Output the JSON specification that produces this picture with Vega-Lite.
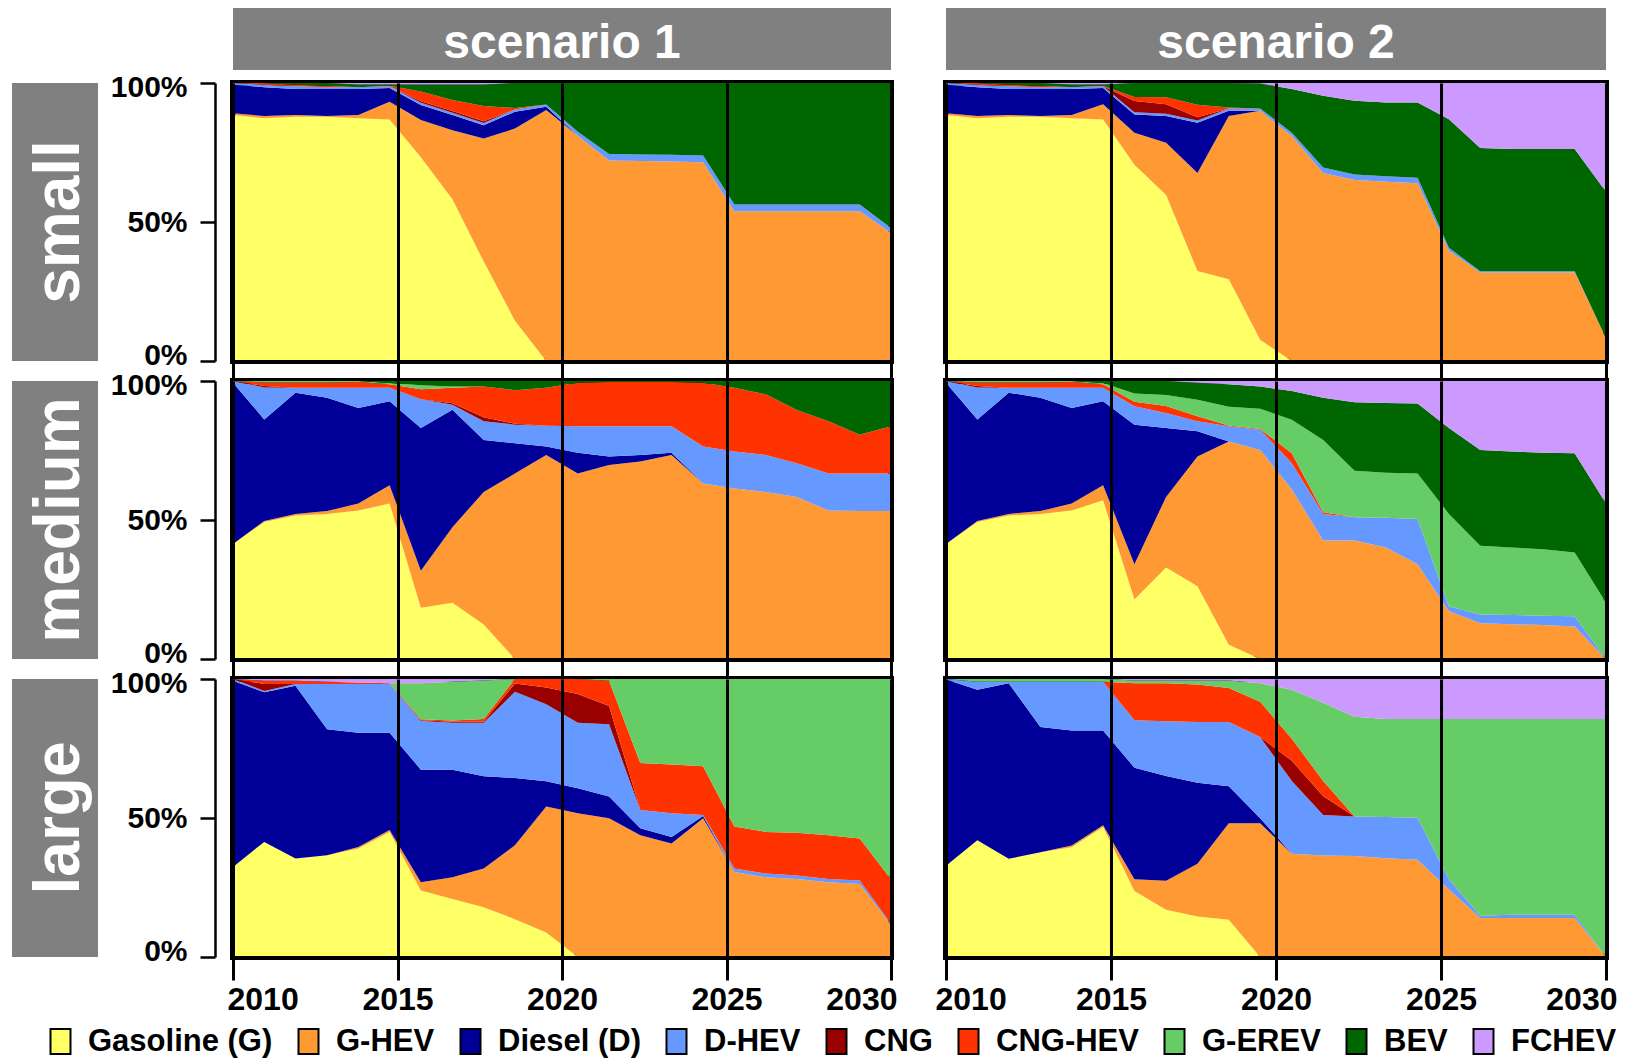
{
  "$schema": "https://vega.github.io/schema/vega-lite/v6.json",
  "padding": {"left": 12, "top": 8, "right": 4, "bottom": 4},
  "background": "white",
  "config": {
    "font": "Liberation Sans",
    "view": {"stroke": "black", "strokeWidth": 6},
    "axis": {"labelFont": "Liberation Sans", "labelFontWeight": "bold", "labelColor": "black", "domainColor": "black", "tickColor": "black"},
    "legend": {
      "labelFont": "Liberation Sans", "labelFontSize": 31, "labelFontWeight": "bold", "labelColor": "black", "labelLimit": 500,
      "symbolStrokeColor": "black", "symbolStrokeWidth": 2
    }
  },
  "datasets": {
    "techs": [
      {"k": "G", "tech": "Gasoline (G)", "rank": 1},
      {"k": "GH", "tech": "G-HEV", "rank": 2},
      {"k": "D", "tech": "Diesel (D)", "rank": 3},
      {"k": "DH", "tech": "D-HEV", "rank": 4},
      {"k": "C", "tech": "CNG", "rank": 5},
      {"k": "CH", "tech": "CNG-HEV", "rank": 6},
      {"k": "GE", "tech": "G-EREV", "rank": 7},
      {"k": "B", "tech": "BEV", "rank": 8},
      {"k": "F", "tech": "FCHEV", "rank": 9}
    ],
    "s1_small": [
      {"x": 2010, "G": 0.885, "GH": 0.006, "D": 0.103, "DH": 0.006, "C": 0, "CH": 0, "GE": 0, "B": 0, "F": 0},
      {"x": 2010.95, "G": 0.873, "GH": 0.008, "D": 0.104, "DH": 0.009, "C": 0, "CH": 0.006, "GE": 0, "B": 0, "F": 0},
      {"x": 2011.9, "G": 0.879, "GH": 0.006, "D": 0.093, "DH": 0.01, "C": 0, "CH": 0.006, "GE": 0, "B": 0.006, "F": 0},
      {"x": 2012.86, "G": 0.879, "GH": 0.002, "D": 0.097, "DH": 0.007, "C": 0, "CH": 0.005, "GE": 0, "B": 0.01, "F": 0},
      {"x": 2013.81, "G": 0.873, "GH": 0.012, "D": 0.093, "DH": 0.007, "C": 0, "CH": 0, "GE": 0, "B": 0.01, "F": 0.005},
      {"x": 2014.76, "G": 0.869, "GH": 0.064, "D": 0.049, "DH": 0.006, "C": 0, "CH": 0.002, "GE": 0, "B": 0.005, "F": 0.005},
      {"x": 2015.71, "G": 0.733, "GH": 0.134, "D": 0.054, "DH": 0.008, "C": 0.005, "CH": 0.035, "GE": 0, "B": 0.026, "F": 0.005},
      {"x": 2016.67, "G": 0.582, "GH": 0.248, "D": 0.055, "DH": 0.008, "C": 0.006, "CH": 0.04, "GE": 0, "B": 0.056, "F": 0.005},
      {"x": 2017.62, "G": 0.358, "GH": 0.442, "D": 0.048, "DH": 0.008, "C": 0.006, "CH": 0.055, "GE": 0, "B": 0.078, "F": 0.005},
      {"x": 2018.57, "G": 0.145, "GH": 0.691, "D": 0.061, "DH": 0.008, "C": 0, "CH": 0.005, "GE": 0, "B": 0.09, "F": 0},
      {"x": 2019.52, "G": 0, "GH": 0.903, "D": 0.012, "DH": 0.008, "C": 0, "CH": 0, "GE": 0, "B": 0.077, "F": 0},
      {"x": 2020.48, "G": 0, "GH": 0.81, "D": 0, "DH": 0.015, "C": 0, "CH": 0, "GE": 0, "B": 0.175, "F": 0},
      {"x": 2021.43, "G": 0, "GH": 0.721, "D": 0, "DH": 0.024, "C": 0, "CH": 0, "GE": 0, "B": 0.255, "F": 0},
      {"x": 2022.38, "G": 0, "GH": 0.719, "D": 0, "DH": 0.024, "C": 0, "CH": 0, "GE": 0, "B": 0.257, "F": 0},
      {"x": 2023.33, "G": 0, "GH": 0.718, "D": 0, "DH": 0.024, "C": 0, "CH": 0, "GE": 0, "B": 0.258, "F": 0},
      {"x": 2024.29, "G": 0, "GH": 0.715, "D": 0, "DH": 0.024, "C": 0, "CH": 0, "GE": 0, "B": 0.261, "F": 0},
      {"x": 2025.24, "G": 0, "GH": 0.539, "D": 0, "DH": 0.024, "C": 0, "CH": 0, "GE": 0, "B": 0.437, "F": 0},
      {"x": 2026.19, "G": 0, "GH": 0.539, "D": 0, "DH": 0.024, "C": 0, "CH": 0, "GE": 0, "B": 0.437, "F": 0},
      {"x": 2027.14, "G": 0, "GH": 0.539, "D": 0, "DH": 0.024, "C": 0, "CH": 0, "GE": 0, "B": 0.437, "F": 0},
      {"x": 2028.1, "G": 0, "GH": 0.539, "D": 0, "DH": 0.024, "C": 0, "CH": 0, "GE": 0, "B": 0.437, "F": 0},
      {"x": 2029.05, "G": 0, "GH": 0.539, "D": 0, "DH": 0.024, "C": 0, "CH": 0, "GE": 0, "B": 0.437, "F": 0},
      {"x": 2030, "G": 0, "GH": 0.46, "D": 0, "DH": 0.018, "C": 0, "CH": 0, "GE": 0, "B": 0.522, "F": 0}
    ],
    "s2_small": [
      {"x": 2010, "G": 0.885, "GH": 0.006, "D": 0.103, "DH": 0.006, "C": 0, "CH": 0, "GE": 0, "B": 0, "F": 0},
      {"x": 2010.95, "G": 0.873, "GH": 0.008, "D": 0.104, "DH": 0.009, "C": 0, "CH": 0.006, "GE": 0, "B": 0, "F": 0},
      {"x": 2011.9, "G": 0.879, "GH": 0.006, "D": 0.093, "DH": 0.01, "C": 0, "CH": 0.006, "GE": 0, "B": 0.006, "F": 0},
      {"x": 2012.86, "G": 0.879, "GH": 0.002, "D": 0.097, "DH": 0.007, "C": 0, "CH": 0.005, "GE": 0, "B": 0.01, "F": 0},
      {"x": 2013.81, "G": 0.873, "GH": 0.012, "D": 0.093, "DH": 0.007, "C": 0, "CH": 0, "GE": 0, "B": 0.01, "F": 0.005},
      {"x": 2014.76, "G": 0.869, "GH": 0.055, "D": 0.058, "DH": 0.006, "C": 0, "CH": 0.002, "GE": 0, "B": 0.005, "F": 0.005},
      {"x": 2015.71, "G": 0.706, "GH": 0.115, "D": 0.066, "DH": 0.008, "C": 0.04, "CH": 0.015, "GE": 0, "B": 0.05, "F": 0},
      {"x": 2016.67, "G": 0.597, "GH": 0.188, "D": 0.096, "DH": 0.008, "C": 0.035, "CH": 0.025, "GE": 0, "B": 0.051, "F": 0},
      {"x": 2017.62, "G": 0.324, "GH": 0.352, "D": 0.181, "DH": 0.008, "C": 0.012, "CH": 0.045, "GE": 0, "B": 0.078, "F": 0},
      {"x": 2018.57, "G": 0.294, "GH": 0.587, "D": 0.019, "DH": 0.008, "C": 0, "CH": 0.004, "GE": 0, "B": 0.088, "F": 0},
      {"x": 2019.52, "G": 0.076, "GH": 0.824, "D": 0, "DH": 0.008, "C": 0, "CH": 0, "GE": 0, "B": 0.09, "F": 0.002},
      {"x": 2020.48, "G": 0, "GH": 0.809, "D": 0, "DH": 0.012, "C": 0, "CH": 0, "GE": 0, "B": 0.157, "F": 0.022},
      {"x": 2021.43, "G": 0, "GH": 0.676, "D": 0, "DH": 0.02, "C": 0, "CH": 0, "GE": 0, "B": 0.258, "F": 0.046},
      {"x": 2022.38, "G": 0, "GH": 0.651, "D": 0, "DH": 0.02, "C": 0, "CH": 0, "GE": 0, "B": 0.265, "F": 0.064},
      {"x": 2023.33, "G": 0, "GH": 0.645, "D": 0, "DH": 0.02, "C": 0, "CH": 0, "GE": 0, "B": 0.265, "F": 0.07},
      {"x": 2024.29, "G": 0, "GH": 0.639, "D": 0, "DH": 0.02, "C": 0, "CH": 0, "GE": 0, "B": 0.271, "F": 0.07},
      {"x": 2025.24, "G": 0, "GH": 0.397, "D": 0, "DH": 0.01, "C": 0, "CH": 0, "GE": 0, "B": 0.463, "F": 0.13},
      {"x": 2026.19, "G": 0, "GH": 0.318, "D": 0, "DH": 0.005, "C": 0, "CH": 0, "GE": 0, "B": 0.443, "F": 0.234},
      {"x": 2027.14, "G": 0, "GH": 0.318, "D": 0, "DH": 0.005, "C": 0, "CH": 0, "GE": 0, "B": 0.44, "F": 0.237},
      {"x": 2028.1, "G": 0, "GH": 0.318, "D": 0, "DH": 0.005, "C": 0, "CH": 0, "GE": 0, "B": 0.44, "F": 0.237},
      {"x": 2029.05, "G": 0, "GH": 0.318, "D": 0, "DH": 0.005, "C": 0, "CH": 0, "GE": 0, "B": 0.44, "F": 0.237},
      {"x": 2030, "G": 0, "GH": 0.082, "D": 0, "DH": 0, "C": 0, "CH": 0, "GE": 0, "B": 0.527, "F": 0.391}
    ],
    "s1_medium": [
      {"x": 2010, "G": 0.414, "GH": 0, "D": 0.58, "DH": 0.006, "C": 0, "CH": 0, "GE": 0, "B": 0, "F": 0},
      {"x": 2010.95, "G": 0.492, "GH": 0.004, "D": 0.365, "DH": 0.115, "C": 0.005, "CH": 0.013, "GE": 0.005, "B": 0, "F": 0},
      {"x": 2011.9, "G": 0.516, "GH": 0.006, "D": 0.436, "DH": 0.018, "C": 0, "CH": 0.019, "GE": 0.005, "B": 0, "F": 0},
      {"x": 2012.86, "G": 0.522, "GH": 0.01, "D": 0.408, "DH": 0.036, "C": 0, "CH": 0.019, "GE": 0.005, "B": 0, "F": 0},
      {"x": 2013.81, "G": 0.534, "GH": 0.025, "D": 0.344, "DH": 0.073, "C": 0, "CH": 0.02, "GE": 0.004, "B": 0, "F": 0},
      {"x": 2014.76, "G": 0.559, "GH": 0.066, "D": 0.302, "DH": 0.049, "C": 0, "CH": 0.012, "GE": 0.005, "B": 0.007, "F": 0},
      {"x": 2015.71, "G": 0.184, "GH": 0.133, "D": 0.514, "DH": 0.103, "C": 0, "CH": 0.036, "GE": 0.015, "B": 0.015, "F": 0},
      {"x": 2016.67, "G": 0.202, "GH": 0.272, "D": 0.423, "DH": 0.018, "C": 0.005, "CH": 0.056, "GE": 0.004, "B": 0.02, "F": 0},
      {"x": 2017.62, "G": 0.124, "GH": 0.477, "D": 0.187, "DH": 0.067, "C": 0.015, "CH": 0.11, "GE": 0, "B": 0.02, "F": 0},
      {"x": 2018.57, "G": 0, "GH": 0.667, "D": 0.109, "DH": 0.067, "C": 0.003, "CH": 0.121, "GE": 0, "B": 0.033, "F": 0},
      {"x": 2019.52, "G": 0, "GH": 0.734, "D": 0.03, "DH": 0.075, "C": 0, "CH": 0.137, "GE": 0, "B": 0.024, "F": 0},
      {"x": 2020.48, "G": 0, "GH": 0.667, "D": 0.075, "DH": 0.095, "C": 0, "CH": 0.157, "GE": 0, "B": 0.006, "F": 0},
      {"x": 2021.43, "G": 0, "GH": 0.698, "D": 0.03, "DH": 0.109, "C": 0, "CH": 0.159, "GE": 0, "B": 0.004, "F": 0},
      {"x": 2022.38, "G": 0, "GH": 0.71, "D": 0.024, "DH": 0.103, "C": 0, "CH": 0.159, "GE": 0, "B": 0.004, "F": 0},
      {"x": 2023.33, "G": 0, "GH": 0.734, "D": 0.008, "DH": 0.095, "C": 0, "CH": 0.159, "GE": 0, "B": 0.004, "F": 0},
      {"x": 2024.29, "G": 0, "GH": 0.631, "D": 0, "DH": 0.133, "C": 0, "CH": 0.23, "GE": 0, "B": 0.006, "F": 0},
      {"x": 2025.24, "G": 0, "GH": 0.613, "D": 0, "DH": 0.133, "C": 0, "CH": 0.23, "GE": 0, "B": 0.024, "F": 0},
      {"x": 2026.19, "G": 0, "GH": 0.601, "D": 0, "DH": 0.133, "C": 0, "CH": 0.218, "GE": 0, "B": 0.048, "F": 0},
      {"x": 2027.14, "G": 0, "GH": 0.583, "D": 0, "DH": 0.121, "C": 0, "CH": 0.192, "GE": 0, "B": 0.104, "F": 0},
      {"x": 2028.1, "G": 0, "GH": 0.534, "D": 0, "DH": 0.133, "C": 0, "CH": 0.188, "GE": 0, "B": 0.145, "F": 0},
      {"x": 2029.05, "G": 0, "GH": 0.532, "D": 0, "DH": 0.135, "C": 0, "CH": 0.14, "GE": 0, "B": 0.193, "F": 0},
      {"x": 2030, "G": 0, "GH": 0.532, "D": 0, "DH": 0.135, "C": 0, "CH": 0.17, "GE": 0, "B": 0.163, "F": 0}
    ],
    "s2_medium": [
      {"x": 2010, "G": 0.414, "GH": 0, "D": 0.58, "DH": 0.006, "C": 0, "CH": 0, "GE": 0, "B": 0, "F": 0},
      {"x": 2010.95, "G": 0.492, "GH": 0.004, "D": 0.365, "DH": 0.115, "C": 0.005, "CH": 0.013, "GE": 0.005, "B": 0, "F": 0},
      {"x": 2011.9, "G": 0.516, "GH": 0.006, "D": 0.436, "DH": 0.018, "C": 0, "CH": 0.019, "GE": 0.005, "B": 0, "F": 0},
      {"x": 2012.86, "G": 0.522, "GH": 0.01, "D": 0.408, "DH": 0.036, "C": 0, "CH": 0.019, "GE": 0.005, "B": 0, "F": 0},
      {"x": 2013.81, "G": 0.534, "GH": 0.025, "D": 0.344, "DH": 0.073, "C": 0, "CH": 0.02, "GE": 0.004, "B": 0, "F": 0},
      {"x": 2014.76, "G": 0.571, "GH": 0.054, "D": 0.302, "DH": 0.049, "C": 0, "CH": 0.012, "GE": 0.005, "B": 0.007, "F": 0},
      {"x": 2015.71, "G": 0.214, "GH": 0.127, "D": 0.502, "DH": 0.066, "C": 0, "CH": 0.016, "GE": 0.03, "B": 0.045, "F": 0},
      {"x": 2016.67, "G": 0.329, "GH": 0.254, "D": 0.248, "DH": 0.054, "C": 0, "CH": 0.025, "GE": 0.04, "B": 0.05, "F": 0},
      {"x": 2017.62, "G": 0.262, "GH": 0.466, "D": 0.091, "DH": 0.036, "C": 0, "CH": 0.018, "GE": 0.06, "B": 0.061, "F": 0.006},
      {"x": 2018.57, "G": 0.051, "GH": 0.731, "D": 0, "DH": 0.055, "C": 0, "CH": 0.003, "GE": 0.067, "B": 0.081, "F": 0.012},
      {"x": 2019.52, "G": 0, "GH": 0.752, "D": 0, "DH": 0.073, "C": 0, "CH": 0.002, "GE": 0.073, "B": 0.08, "F": 0.02},
      {"x": 2020.48, "G": 0, "GH": 0.61, "D": 0, "DH": 0.094, "C": 0, "CH": 0.036, "GE": 0.121, "B": 0.103, "F": 0.036},
      {"x": 2021.43, "G": 0, "GH": 0.426, "D": 0, "DH": 0.096, "C": 0, "CH": 0.006, "GE": 0.26, "B": 0.152, "F": 0.06},
      {"x": 2022.38, "G": 0, "GH": 0.426, "D": 0, "DH": 0.084, "C": 0, "CH": 0, "GE": 0.167, "B": 0.247, "F": 0.076},
      {"x": 2023.33, "G": 0, "GH": 0.401, "D": 0, "DH": 0.107, "C": 0, "CH": 0, "GE": 0.162, "B": 0.251, "F": 0.079},
      {"x": 2024.29, "G": 0, "GH": 0.341, "D": 0, "DH": 0.163, "C": 0, "CH": 0, "GE": 0.163, "B": 0.252, "F": 0.081},
      {"x": 2025.24, "G": 0, "GH": 0.172, "D": 0, "DH": 0.018, "C": 0, "CH": 0, "GE": 0.332, "B": 0.309, "F": 0.169},
      {"x": 2026.19, "G": 0, "GH": 0.129, "D": 0, "DH": 0.031, "C": 0, "CH": 0, "GE": 0.247, "B": 0.345, "F": 0.248},
      {"x": 2027.14, "G": 0, "GH": 0.125, "D": 0, "DH": 0.033, "C": 0, "CH": 0, "GE": 0.243, "B": 0.345, "F": 0.254},
      {"x": 2028.1, "G": 0, "GH": 0.122, "D": 0, "DH": 0.034, "C": 0, "CH": 0, "GE": 0.239, "B": 0.347, "F": 0.258},
      {"x": 2029.05, "G": 0, "GH": 0.117, "D": 0, "DH": 0.037, "C": 0, "CH": 0, "GE": 0.229, "B": 0.357, "F": 0.26},
      {"x": 2030, "G": 0, "GH": 0, "D": 0, "DH": 0, "C": 0, "CH": 0, "GE": 0.202, "B": 0.357, "F": 0.441}
    ],
    "s1_large": [
      {"x": 2010, "G": 0.324, "GH": 0, "D": 0.67, "DH": 0.006, "C": 0, "CH": 0, "GE": 0, "B": 0, "F": 0},
      {"x": 2010.95, "G": 0.414, "GH": 0, "D": 0.538, "DH": 0.005, "C": 0.025, "CH": 0.012, "GE": 0, "B": 0, "F": 0.006},
      {"x": 2011.9, "G": 0.354, "GH": 0, "D": 0.622, "DH": 0.006, "C": 0, "CH": 0.012, "GE": 0, "B": 0, "F": 0.006},
      {"x": 2012.86, "G": 0.366, "GH": 0, "D": 0.453, "DH": 0.163, "C": 0, "CH": 0.008, "GE": 0, "B": 0, "F": 0.01},
      {"x": 2013.81, "G": 0.39, "GH": 0.006, "D": 0.411, "DH": 0.175, "C": 0, "CH": 0.005, "GE": 0, "B": 0, "F": 0.013},
      {"x": 2014.76, "G": 0.45, "GH": 0.007, "D": 0.35, "DH": 0.175, "C": 0, "CH": 0.003, "GE": 0, "B": 0, "F": 0.015},
      {"x": 2015.71, "G": 0.239, "GH": 0.03, "D": 0.405, "DH": 0.175, "C": 0.003, "CH": 0.003, "GE": 0.13, "B": 0, "F": 0.015},
      {"x": 2016.67, "G": 0.209, "GH": 0.078, "D": 0.387, "DH": 0.169, "C": 0.003, "CH": 0.005, "GE": 0.139, "B": 0, "F": 0.01},
      {"x": 2017.62, "G": 0.179, "GH": 0.139, "D": 0.332, "DH": 0.193, "C": 0.003, "CH": 0.01, "GE": 0.139, "B": 0, "F": 0.005},
      {"x": 2018.57, "G": 0.136, "GH": 0.266, "D": 0.242, "DH": 0.31, "C": 0.03, "CH": 0.016, "GE": 0, "B": 0, "F": 0},
      {"x": 2019.52, "G": 0.088, "GH": 0.453, "D": 0.091, "DH": 0.277, "C": 0.06, "CH": 0.031, "GE": 0, "B": 0, "F": 0},
      {"x": 2020.48, "G": 0, "GH": 0.517, "D": 0.09, "DH": 0.236, "C": 0.103, "CH": 0.054, "GE": 0, "B": 0, "F": 0},
      {"x": 2021.43, "G": 0, "GH": 0.499, "D": 0.078, "DH": 0.26, "C": 0.066, "CH": 0.091, "GE": 0.006, "B": 0, "F": 0},
      {"x": 2022.38, "G": 0, "GH": 0.438, "D": 0.025, "DH": 0.066, "C": 0, "CH": 0.169, "GE": 0.302, "B": 0, "F": 0},
      {"x": 2023.33, "G": 0, "GH": 0.408, "D": 0.024, "DH": 0.085, "C": 0, "CH": 0.175, "GE": 0.308, "B": 0, "F": 0},
      {"x": 2024.29, "G": 0, "GH": 0.499, "D": 0.008, "DH": 0.004, "C": 0, "CH": 0.175, "GE": 0.314, "B": 0, "F": 0},
      {"x": 2025.24, "G": 0, "GH": 0.306, "D": 0, "DH": 0.012, "C": 0, "CH": 0.151, "GE": 0.531, "B": 0, "F": 0},
      {"x": 2026.19, "G": 0, "GH": 0.287, "D": 0, "DH": 0.013, "C": 0, "CH": 0.15, "GE": 0.55, "B": 0, "F": 0},
      {"x": 2027.14, "G": 0, "GH": 0.281, "D": 0, "DH": 0.012, "C": 0, "CH": 0.154, "GE": 0.553, "B": 0, "F": 0},
      {"x": 2028.1, "G": 0, "GH": 0.269, "D": 0, "DH": 0.012, "C": 0, "CH": 0.157, "GE": 0.562, "B": 0, "F": 0},
      {"x": 2029.05, "G": 0, "GH": 0.263, "D": 0, "DH": 0.012, "C": 0, "CH": 0.151, "GE": 0.574, "B": 0, "F": 0},
      {"x": 2030, "G": 0, "GH": 0.115, "D": 0, "DH": 0.005, "C": 0, "CH": 0.16, "GE": 0.72, "B": 0, "F": 0}
    ],
    "s2_large": [
      {"x": 2010, "G": 0.328, "GH": 0, "D": 0.67, "DH": 0.002, "C": 0, "CH": 0, "GE": 0, "B": 0, "F": 0},
      {"x": 2010.95, "G": 0.42, "GH": 0, "D": 0.541, "DH": 0.029, "C": 0, "CH": 0, "GE": 0.01, "B": 0, "F": 0},
      {"x": 2011.9, "G": 0.353, "GH": 0, "D": 0.632, "DH": 0.005, "C": 0, "CH": 0, "GE": 0.01, "B": 0, "F": 0},
      {"x": 2012.86, "G": 0.377, "GH": 0, "D": 0.45, "DH": 0.163, "C": 0, "CH": 0, "GE": 0.01, "B": 0, "F": 0},
      {"x": 2013.81, "G": 0.395, "GH": 0.006, "D": 0.414, "DH": 0.175, "C": 0, "CH": 0, "GE": 0.01, "B": 0, "F": 0},
      {"x": 2014.76, "G": 0.468, "GH": 0.006, "D": 0.341, "DH": 0.175, "C": 0, "CH": 0, "GE": 0.01, "B": 0, "F": 0},
      {"x": 2015.71, "G": 0.237, "GH": 0.043, "D": 0.401, "DH": 0.171, "C": 0, "CH": 0.133, "GE": 0.01, "B": 0, "F": 0.005},
      {"x": 2016.67, "G": 0.17, "GH": 0.104, "D": 0.377, "DH": 0.197, "C": 0, "CH": 0.137, "GE": 0.01, "B": 0, "F": 0.005},
      {"x": 2017.62, "G": 0.146, "GH": 0.189, "D": 0.292, "DH": 0.218, "C": 0, "CH": 0.135, "GE": 0.015, "B": 0, "F": 0.005},
      {"x": 2018.57, "G": 0.134, "GH": 0.347, "D": 0.133, "DH": 0.231, "C": 0, "CH": 0.123, "GE": 0.027, "B": 0, "F": 0.005},
      {"x": 2019.52, "G": 0, "GH": 0.481, "D": 0.018, "DH": 0.292, "C": 0, "CH": 0.127, "GE": 0.067, "B": 0, "F": 0.015},
      {"x": 2020.48, "G": 0, "GH": 0.371, "D": 0, "DH": 0.262, "C": 0.073, "CH": 0.079, "GE": 0.176, "B": 0, "F": 0.039},
      {"x": 2021.43, "G": 0, "GH": 0.365, "D": 0, "DH": 0.146, "C": 0.067, "CH": 0.055, "GE": 0.282, "B": 0, "F": 0.085},
      {"x": 2022.38, "G": 0, "GH": 0.363, "D": 0, "DH": 0.142, "C": 0, "CH": 0, "GE": 0.359, "B": 0, "F": 0.136},
      {"x": 2023.33, "G": 0, "GH": 0.355, "D": 0, "DH": 0.149, "C": 0, "CH": 0, "GE": 0.352, "B": 0, "F": 0.144},
      {"x": 2024.29, "G": 0, "GH": 0.35, "D": 0, "DH": 0.151, "C": 0, "CH": 0, "GE": 0.355, "B": 0, "F": 0.144},
      {"x": 2025.24, "G": 0, "GH": 0.243, "D": 0, "DH": 0.037, "C": 0, "CH": 0, "GE": 0.576, "B": 0, "F": 0.144},
      {"x": 2026.19, "G": 0, "GH": 0.14, "D": 0, "DH": 0.008, "C": 0, "CH": 0, "GE": 0.708, "B": 0, "F": 0.144},
      {"x": 2027.14, "G": 0, "GH": 0.14, "D": 0, "DH": 0.012, "C": 0, "CH": 0, "GE": 0.704, "B": 0, "F": 0.144},
      {"x": 2028.1, "G": 0, "GH": 0.14, "D": 0, "DH": 0.012, "C": 0, "CH": 0, "GE": 0.704, "B": 0, "F": 0.144},
      {"x": 2029.05, "G": 0, "GH": 0.14, "D": 0, "DH": 0.012, "C": 0, "CH": 0, "GE": 0.704, "B": 0, "F": 0.144},
      {"x": 2030, "G": 0, "GH": 0, "D": 0, "DH": 0, "C": 0, "CH": 0, "GE": 0.856, "B": 0, "F": 0.144}
    ]
  },
  "resolve": {"scale": {"color": "shared"}, "legend": {"color": "shared"}},
  "spacing": -1,
  "vconcat": [
    {
      "spacing": 55,
      "hconcat": [
        {"width": 86, "height": 62, "view": {"stroke": null}, "data": {"values": [{"label": ""}]}, "mark": {"type": "text"}, "encoding": {"text": {"field": "label", "type": "nominal"}}},
        {"width": 25, "height": 62, "view": {"stroke": null}, "data": {"values": [{"label": ""}]}, "mark": {"type": "text"}, "encoding": {"text": {"field": "label", "type": "nominal"}}},
        {"width": 658, "height": 62, "view": {"fill": "#808080", "stroke": null}, "data": {"values": [{"label": "scenario 1"}]}, "mark": {"type": "text", "fontSize": 48, "fontWeight": "bold", "color": "white", "baseline": "middle", "align": "center", "dy": 5}, "encoding": {"text": {"field": "label", "type": "nominal"}}},
        {"width": 660, "height": 62, "view": {"fill": "#808080", "stroke": null}, "data": {"values": [{"label": "scenario 2"}]}, "mark": {"type": "text", "fontSize": 48, "fontWeight": "bold", "color": "white", "baseline": "middle", "align": "center", "dy": 5}, "encoding": {"text": {"field": "label", "type": "nominal"}}}
      ]
    },
    {
      "columns": 4,
      "bounds": "flush",
      "align": "each",
      "spacing": {"row": 20, "column": 55},
      "resolve": {"scale": {"color": "shared"}, "legend": {"color": "shared"}},
      "concat": [
        {"width": 86, "height": 278, "view": {"fill": "#808080", "stroke": null}, "data": {"values": [{"label": "small"}]}, "mark": {"type": "text", "angle": 270, "fontSize": 64, "fontWeight": "bold", "color": "white", "baseline": "middle", "align": "center", "dy": 5}, "encoding": {"text": {"field": "label", "type": "nominal"}}},
        {"width": 25, "height": 278, "view": {"stroke": null}, "data": {"values": [{"label": ""}]}, "mark": {"type": "text"}, "encoding": {"text": {"field": "label", "type": "nominal"}}},
        {
          "width": 658, "height": 278,
          "data": {"name": "s1_small"},
          "transform": [
            {"fold": ["G", "GH", "D", "DH", "C", "CH", "GE", "B", "F"], "as": ["k", "share"]},
            {"lookup": "k", "from": {"data": {"name": "techs"}, "key": "k", "fields": ["tech", "rank"]}}
          ],
          "mark": {"type": "area", "interpolate": "linear"},
          "encoding": {
            "x": {"field": "x", "type": "quantitative", "scale": {"domain": [2010, 2030], "nice": false, "zero": false},
                  "axis": {"values": [2010, 2015, 2020, 2025, 2030], "labels": false, "grid": true, "gridColor": "black", "gridWidth": 3, "gridOpacity": 1, "domainWidth": 3, "tickWidth": 3, "tickSize": 20, "title": null, "zindex": 1}},
            "y": {"field": "share", "type": "quantitative", "stack": "normalize", "scale": {"domain": [0, 1], "nice": false},
                  "axis": {"values": [0, 0.5, 1], "format": ".0%", "offset": 18, "tickSize": 15, "tickWidth": 2.5, "domainWidth": 2.5, "labelFontSize": 30, "labelPadding": 13, "title": null, "grid": false,
                           "labelOffset": {"condition": [{"test": "datum.value === 0", "value": -6}, {"test": "datum.value === 1", "value": 4}], "value": 0}}},
            "color": {"field": "tech", "type": "nominal",
                      "scale": {"domain": ["Gasoline (G)", "G-HEV", "Diesel (D)", "D-HEV", "CNG", "CNG-HEV", "G-EREV", "BEV", "FCHEV"], "range": ["#FFFF66", "#FF9933", "#000099", "#6699FF", "#990000", "#FF3300", "#66CC66", "#006600", "#CC99FF"]},
                      "legend": {"title": null, "orient": "none", "legendX": 33, "legendY": 1018, "direction": "horizontal", "columns": 9, "symbolType": "M-0.8,-1H0.8V1H-0.8Z", "symbolSize": 625, "labelOffset": 12, "columnPadding": 20, "encode": {"symbols": {"update": {"stroke": {"value": "black"}, "strokeWidth": {"value": 2}}}}}},
            "order": {"field": "rank", "type": "quantitative"}
          }
        },
        {
          "width": 660, "height": 278,
          "data": {"name": "s2_small"},
          "transform": [
            {"fold": ["G", "GH", "D", "DH", "C", "CH", "GE", "B", "F"], "as": ["k", "share"]},
            {"lookup": "k", "from": {"data": {"name": "techs"}, "key": "k", "fields": ["tech", "rank"]}}
          ],
          "mark": {"type": "area", "interpolate": "linear"},
          "encoding": {
            "x": {"field": "x", "type": "quantitative", "scale": {"domain": [2010, 2030], "nice": false, "zero": false},
                  "axis": {"values": [2010, 2015, 2020, 2025, 2030], "labels": false, "grid": true, "gridColor": "black", "gridWidth": 3, "gridOpacity": 1, "domainWidth": 3, "tickWidth": 3, "tickSize": 20, "title": null, "zindex": 1}},
            "y": {"field": "share", "type": "quantitative", "stack": "normalize", "scale": {"domain": [0, 1], "nice": false}, "axis": null},
            "color": {"field": "tech", "type": "nominal",
                      "scale": {"domain": ["Gasoline (G)", "G-HEV", "Diesel (D)", "D-HEV", "CNG", "CNG-HEV", "G-EREV", "BEV", "FCHEV"], "range": ["#FFFF66", "#FF9933", "#000099", "#6699FF", "#990000", "#FF3300", "#66CC66", "#006600", "#CC99FF"]},
                      "legend": {"title": null, "orient": "none", "legendX": 33, "legendY": 1018, "direction": "horizontal", "columns": 9, "symbolType": "M-0.8,-1H0.8V1H-0.8Z", "symbolSize": 625, "labelOffset": 12, "columnPadding": 20, "encode": {"symbols": {"update": {"stroke": {"value": "black"}, "strokeWidth": {"value": 2}}}}}},
            "order": {"field": "rank", "type": "quantitative"}
          }
        },
        {"width": 86, "height": 278, "view": {"fill": "#808080", "stroke": null}, "data": {"values": [{"label": "medium"}]}, "mark": {"type": "text", "angle": 270, "fontSize": 64, "fontWeight": "bold", "color": "white", "baseline": "middle", "align": "center", "dy": 5}, "encoding": {"text": {"field": "label", "type": "nominal"}}},
        {"width": 25, "height": 278, "view": {"stroke": null}, "data": {"values": [{"label": ""}]}, "mark": {"type": "text"}, "encoding": {"text": {"field": "label", "type": "nominal"}}},
        {
          "width": 658, "height": 278,
          "data": {"name": "s1_medium"},
          "transform": [
            {"fold": ["G", "GH", "D", "DH", "C", "CH", "GE", "B", "F"], "as": ["k", "share"]},
            {"lookup": "k", "from": {"data": {"name": "techs"}, "key": "k", "fields": ["tech", "rank"]}}
          ],
          "mark": {"type": "area", "interpolate": "linear"},
          "encoding": {
            "x": {"field": "x", "type": "quantitative", "scale": {"domain": [2010, 2030], "nice": false, "zero": false},
                  "axis": {"values": [2010, 2015, 2020, 2025, 2030], "labels": false, "grid": true, "gridColor": "black", "gridWidth": 3, "gridOpacity": 1, "domainWidth": 3, "tickWidth": 3, "tickSize": 20, "title": null, "zindex": 1}},
            "y": {"field": "share", "type": "quantitative", "stack": "normalize", "scale": {"domain": [0, 1], "nice": false},
                  "axis": {"values": [0, 0.5, 1], "format": ".0%", "offset": 18, "tickSize": 15, "tickWidth": 2.5, "domainWidth": 2.5, "labelFontSize": 30, "labelPadding": 13, "title": null, "grid": false,
                           "labelOffset": {"condition": [{"test": "datum.value === 0", "value": -6}, {"test": "datum.value === 1", "value": 4}], "value": 0}}},
            "color": {"field": "tech", "type": "nominal",
                      "scale": {"domain": ["Gasoline (G)", "G-HEV", "Diesel (D)", "D-HEV", "CNG", "CNG-HEV", "G-EREV", "BEV", "FCHEV"], "range": ["#FFFF66", "#FF9933", "#000099", "#6699FF", "#990000", "#FF3300", "#66CC66", "#006600", "#CC99FF"]},
                      "legend": {"title": null, "orient": "none", "legendX": 33, "legendY": 1018, "direction": "horizontal", "columns": 9, "symbolType": "M-0.8,-1H0.8V1H-0.8Z", "symbolSize": 625, "labelOffset": 12, "columnPadding": 20, "encode": {"symbols": {"update": {"stroke": {"value": "black"}, "strokeWidth": {"value": 2}}}}}},
            "order": {"field": "rank", "type": "quantitative"}
          }
        },
        {
          "width": 660, "height": 278,
          "data": {"name": "s2_medium"},
          "transform": [
            {"fold": ["G", "GH", "D", "DH", "C", "CH", "GE", "B", "F"], "as": ["k", "share"]},
            {"lookup": "k", "from": {"data": {"name": "techs"}, "key": "k", "fields": ["tech", "rank"]}}
          ],
          "mark": {"type": "area", "interpolate": "linear"},
          "encoding": {
            "x": {"field": "x", "type": "quantitative", "scale": {"domain": [2010, 2030], "nice": false, "zero": false},
                  "axis": {"values": [2010, 2015, 2020, 2025, 2030], "labels": false, "grid": true, "gridColor": "black", "gridWidth": 3, "gridOpacity": 1, "domainWidth": 3, "tickWidth": 3, "tickSize": 20, "title": null, "zindex": 1}},
            "y": {"field": "share", "type": "quantitative", "stack": "normalize", "scale": {"domain": [0, 1], "nice": false}, "axis": null},
            "color": {"field": "tech", "type": "nominal",
                      "scale": {"domain": ["Gasoline (G)", "G-HEV", "Diesel (D)", "D-HEV", "CNG", "CNG-HEV", "G-EREV", "BEV", "FCHEV"], "range": ["#FFFF66", "#FF9933", "#000099", "#6699FF", "#990000", "#FF3300", "#66CC66", "#006600", "#CC99FF"]},
                      "legend": {"title": null, "orient": "none", "legendX": 33, "legendY": 1018, "direction": "horizontal", "columns": 9, "symbolType": "M-0.8,-1H0.8V1H-0.8Z", "symbolSize": 625, "labelOffset": 12, "columnPadding": 20, "encode": {"symbols": {"update": {"stroke": {"value": "black"}, "strokeWidth": {"value": 2}}}}}},
            "order": {"field": "rank", "type": "quantitative"}
          }
        },
        {"width": 86, "height": 278, "view": {"fill": "#808080", "stroke": null}, "data": {"values": [{"label": "large"}]}, "mark": {"type": "text", "angle": 270, "fontSize": 64, "fontWeight": "bold", "color": "white", "baseline": "middle", "align": "center", "dy": 5}, "encoding": {"text": {"field": "label", "type": "nominal"}}},
        {"width": 25, "height": 278, "view": {"stroke": null}, "data": {"values": [{"label": ""}]}, "mark": {"type": "text"}, "encoding": {"text": {"field": "label", "type": "nominal"}}},
        {
          "width": 658, "height": 278,
          "data": {"name": "s1_large"},
          "transform": [
            {"fold": ["G", "GH", "D", "DH", "C", "CH", "GE", "B", "F"], "as": ["k", "share"]},
            {"lookup": "k", "from": {"data": {"name": "techs"}, "key": "k", "fields": ["tech", "rank"]}}
          ],
          "mark": {"type": "area", "interpolate": "linear"},
          "encoding": {
            "x": {"field": "x", "type": "quantitative", "scale": {"domain": [2010, 2030], "nice": false, "zero": false},
                  "axis": {"values": [2010, 2015, 2020, 2025, 2030], "format": "d", "grid": true, "gridColor": "black", "gridWidth": 3, "gridOpacity": 1, "domainWidth": 3, "tickWidth": 3, "tickSize": 23, "labelFontSize": 32, "labelPadding": 4, "labelFlush": true, "labelFlushOffset": 6, "title": null, "zindex": 1}},
            "y": {"field": "share", "type": "quantitative", "stack": "normalize", "scale": {"domain": [0, 1], "nice": false},
                  "axis": {"values": [0, 0.5, 1], "format": ".0%", "offset": 18, "tickSize": 15, "tickWidth": 2.5, "domainWidth": 2.5, "labelFontSize": 30, "labelPadding": 13, "title": null, "grid": false,
                           "labelOffset": {"condition": [{"test": "datum.value === 0", "value": -6}, {"test": "datum.value === 1", "value": 4}], "value": 0}}},
            "color": {"field": "tech", "type": "nominal",
                      "scale": {"domain": ["Gasoline (G)", "G-HEV", "Diesel (D)", "D-HEV", "CNG", "CNG-HEV", "G-EREV", "BEV", "FCHEV"], "range": ["#FFFF66", "#FF9933", "#000099", "#6699FF", "#990000", "#FF3300", "#66CC66", "#006600", "#CC99FF"]},
                      "legend": {"title": null, "orient": "none", "legendX": 33, "legendY": 1018, "direction": "horizontal", "columns": 9, "symbolType": "M-0.8,-1H0.8V1H-0.8Z", "symbolSize": 625, "labelOffset": 12, "columnPadding": 20, "encode": {"symbols": {"update": {"stroke": {"value": "black"}, "strokeWidth": {"value": 2}}}}}},
            "order": {"field": "rank", "type": "quantitative"}
          }
        },
        {
          "width": 660, "height": 278,
          "data": {"name": "s2_large"},
          "transform": [
            {"fold": ["G", "GH", "D", "DH", "C", "CH", "GE", "B", "F"], "as": ["k", "share"]},
            {"lookup": "k", "from": {"data": {"name": "techs"}, "key": "k", "fields": ["tech", "rank"]}}
          ],
          "mark": {"type": "area", "interpolate": "linear"},
          "encoding": {
            "x": {"field": "x", "type": "quantitative", "scale": {"domain": [2010, 2030], "nice": false, "zero": false},
                  "axis": {"values": [2010, 2015, 2020, 2025, 2030], "format": "d", "grid": true, "gridColor": "black", "gridWidth": 3, "gridOpacity": 1, "domainWidth": 3, "tickWidth": 3, "tickSize": 23, "labelFontSize": 32, "labelPadding": 4, "labelFlush": true, "labelFlushOffset": 11, "title": null, "zindex": 1}},
            "y": {"field": "share", "type": "quantitative", "stack": "normalize", "scale": {"domain": [0, 1], "nice": false}, "axis": null},
            "color": {"field": "tech", "type": "nominal",
                      "scale": {"domain": ["Gasoline (G)", "G-HEV", "Diesel (D)", "D-HEV", "CNG", "CNG-HEV", "G-EREV", "BEV", "FCHEV"], "range": ["#FFFF66", "#FF9933", "#000099", "#6699FF", "#990000", "#FF3300", "#66CC66", "#006600", "#CC99FF"]},
                      "legend": {"title": null, "orient": "none", "legendX": 33, "legendY": 1018, "direction": "horizontal", "columns": 9, "symbolType": "M-0.8,-1H0.8V1H-0.8Z", "symbolSize": 625, "labelOffset": 12, "columnPadding": 20, "encode": {"symbols": {"update": {"stroke": {"value": "black"}, "strokeWidth": {"value": 2}}}}}},
            "order": {"field": "rank", "type": "quantitative"}
          }
        }
      ]
    }
  ]
}
